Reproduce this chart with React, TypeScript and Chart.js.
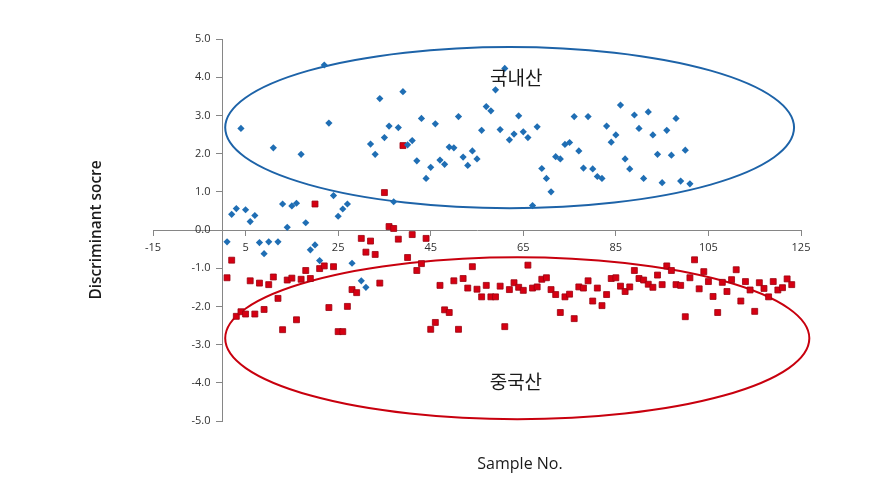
import React, { useEffect, useRef } from 'react';
import { Chart, registerables } from 'chart.js';

Chart.register(...registerables);

// Discriminant scores, sample No. 1..101 (domestic, 국내산); null = no point
const domesticScores: (number | null)[] = [
  -0.31, 0.41, 0.56, 2.66, 0.53, 0.22, 0.38, -0.33, -0.62, -0.31,
  2.15, -0.31, 0.68, 0.07, 0.63, 0.70, 1.98, 0.19, -0.52, -0.39,
  -0.80, 4.32, 2.80, 0.90, 0.36, 0.55, 0.68, -0.87, null, -1.33,
  -1.50, 2.25, 1.98, 3.44, 2.42, 2.72, 0.74, 2.68, 3.62, 2.23,
  2.34, 1.81, 2.92, 1.35, 1.64, 2.78, 1.83, 1.72, 2.17, 2.15,
  2.97, 1.91, 1.69, 2.07, 1.86, 2.61, 3.23, 3.12, 3.67, 2.63,
  4.23, 2.36, 2.51, 2.99, 2.57, 2.42, 0.64, 2.70, 1.61, 1.35,
  1.00, 1.92, 1.86, 2.24, 2.29, 2.97, 2.07, 1.62, 2.97, 1.60,
  1.40, 1.35, 2.72, 2.30, 2.49, 3.27, 1.86, 1.60, 3.01, 2.66,
  1.35, 3.09, 2.49, 1.98, 1.24, 2.61, 1.96, 2.92, 1.28, 2.09,
  1.21,
];

// Discriminant scores, sample No. 1..123 (Chinese, 중국산)
const chineseScores: number[] = [
  -1.25, -0.79, -2.26, -2.14, -2.20, -1.33, -2.20, -1.39, -2.08, -1.43,
  -1.23, -1.79, -2.61, -1.31, -1.26, -2.35, -1.29, -1.06, -1.27, 0.68,
  -1.01, -0.94, -2.03, -0.96, -2.66, -2.66, -2.00, -1.56, -1.64, -0.22,
  -0.58, -0.29, -0.64, -1.39, 0.98, 0.09, 0.04, -0.24, 2.21, -0.72,
  -0.12, -1.06, -0.88, -0.22, -2.60, -2.42, -1.45, -2.09, -2.16, -1.33,
  -2.60, -1.27, -1.52, -0.96, -1.55, -1.75, -1.45, -1.75, -1.75, -1.47,
  -2.53, -1.56, -1.38, -1.50, -1.58, -0.92, -1.52, -1.49, -1.29, -1.25,
  -1.56, -1.69, -2.16, -1.75, -1.68, -2.32, -1.49, -1.52, -1.33, -1.86,
  -1.52, -1.98, -1.69, -1.27, -1.25, -1.47, -1.61, -1.49, -1.06, -1.27,
  -1.31, -1.42, -1.50, -1.18, -1.43, -0.94, -1.06, -1.43, -1.45, -2.27,
  -1.25, -0.78, -1.54, -1.09, -1.35, -1.74, -2.16, -1.37, -1.61, -1.30,
  -1.04, -1.86, -1.35, -1.57, -2.13, -1.38, -1.53, -1.75, -1.35, -1.57,
  -1.51, -1.28, -1.43,
];

const xMin = -15;
const xMax = 125;
const xStep = 20;
const yMin = -5;
const yMax = 5;
const yStep = 1;

const groupNames = ['국내산', '중국산'];
// group annotation: ellipse centre / radii and label position, in data units
const groupCentersX = [62.05, 63.7];
const groupCentersY = [2.68, -2.835];
const groupRadiiX = [61.45, 63.1];
const groupRadiiY = [2.11, 2.12];
const groupLabelX = [63.5, 63.4];
const groupLabelY = [3.98, -3.98];

const xTitle = 'Sample No.';
const yTitle = 'Discriminant socre';

const BLUE = '#1f6eb4';
const RED = '#d60012';
const ELLIPSE_COLORS = ['#1d63a8', '#c8000e'];
const AXIS = '#868686';
const TICK_TEXT = '#303030';
const TICK_FONT = '11px "Open Sans"';

const overlayPlugin = {
  id: 'overlay',
  beforeDatasetsDraw(chart: any) {
    const { ctx, scales } = chart;
    const x = scales.x;
    const y = scales.y;
    groupNames.forEach((_, i) => {
      const cx = x.getPixelForValue(groupCentersX[i]);
      const cy = y.getPixelForValue(groupCentersY[i]);
      const rx = Math.abs(x.getPixelForValue(groupCentersX[i] + groupRadiiX[i]) - cx);
      const ry = Math.abs(y.getPixelForValue(groupCentersY[i] + groupRadiiY[i]) - cy);
      ctx.save();
      ctx.beginPath();
      ctx.ellipse(cx, cy, rx, ry, 0, 0, Math.PI * 2);
      ctx.lineWidth = 2;
      ctx.strokeStyle = ELLIPSE_COLORS[i];
      ctx.stroke();
      ctx.restore();
    });
  },
  afterDraw(chart: any) {
    const { ctx, scales, chartArea } = chart;
    const x = scales.x;
    const y = scales.y;
    const xAxisY = y.getPixelForValue(0);
    const yAxisX = x.getPixelForValue(0);
    ctx.save();
    // tick labels, from the scales' own ticks
    ctx.font = TICK_FONT;
    ctx.fillStyle = TICK_TEXT;
    ctx.textBaseline = 'middle';
    ctx.textAlign = 'center';
    x.ticks.forEach((t: any) => {
      ctx.fillText(String(t.value), x.getPixelForValue(t.value), xAxisY + 18);
    });
    ctx.textAlign = 'right';
    y.ticks.forEach((t: any) => {
      ctx.fillText(Number(t.value).toFixed(1), yAxisX - 12, y.getPixelForValue(t.value));
    });

    ctx.fillStyle = '#1a1a1a';
    ctx.textAlign = 'center';
    ctx.textBaseline = 'middle';
    ctx.font = '19px "Noto Sans CJK KR"';
    groupNames.forEach((name, i) => {
      ctx.fillText(name, x.getPixelForValue(groupLabelX[i]), y.getPixelForValue(groupLabelY[i]));
    });
    ctx.font = '16px "Open Sans"';
    ctx.fillText(xTitle, (chartArea.left + chartArea.right) / 2 + 43, chartArea.bottom + 43);
    ctx.translate(chartArea.left - 56, (chartArea.top + chartArea.bottom) / 2);
    ctx.rotate(-Math.PI / 2);
    ctx.font = '600 15.4px "Open Sans"';
    ctx.fillText(yTitle, 0, 0);
    ctx.restore();
  },
};

export default function App() {
  const canvasRef = useRef<HTMLCanvasElement | null>(null);

  useEffect(() => {
    const canvas = canvasRef.current;
    if (!canvas) return;
    const chart = new Chart(canvas, {
      type: 'scatter',
      data: {
        datasets: [
          {
            label: groupNames[0],
            data: domesticScores
              .map((v, i) => ({ x: i + 1, y: v }))
              .filter((p) => p.y !== null) as any,
            pointStyle: 'rectRot',
            pointRadius: 3.6,
            backgroundColor: BLUE,
            borderColor: BLUE,
            borderWidth: 0,
          },
          {
            label: groupNames[1],
            data: chineseScores.map((v, i) => ({ x: i + 1, y: v })),
            pointStyle: 'rect',
            pointRadius: 4.2,
            backgroundColor: RED,
            borderColor: '#9a0010',
            borderWidth: 0.8,
          },
        ],
      },
      options: {
        animation: false,
        responsive: false,
        layout: { padding: { left: 153, top: 39, right: 72, bottom: 64 } },
        plugins: { legend: { display: false }, tooltip: { enabled: false } },
        scales: {
          x: {
            type: 'linear',
            min: xMin,
            max: xMax,
            position: { y: 0 } as any,
            afterFit: (s: any) => {
              s.height = 0;
            },
            ticks: { stepSize: xStep, autoSkip: false, maxRotation: 0, display: false },
            grid: { drawOnChartArea: false, drawTicks: true, tickLength: 5, color: AXIS },
            border: { display: true, color: AXIS, width: 1 },
          },
          y: {
            type: 'linear',
            min: yMin,
            max: yMax,
            position: { x: 0 } as any,
            afterFit: (s: any) => {
              s.width = 0;
            },
            ticks: { stepSize: yStep, autoSkip: false, display: false },
            grid: { drawOnChartArea: false, drawTicks: true, tickLength: 6, color: AXIS },
            border: { display: true, color: AXIS, width: 1 },
          },
        },
      },
      plugins: [overlayPlugin],
    });
    return () => chart.destroy();
  }, []);

  return (
    <div style={{ position: 'fixed', left: 0, top: 0, width: 873, height: 485, background: '#fff' }}>
      <canvas ref={canvasRef} width={873} height={485} />
    </div>
  );
}
